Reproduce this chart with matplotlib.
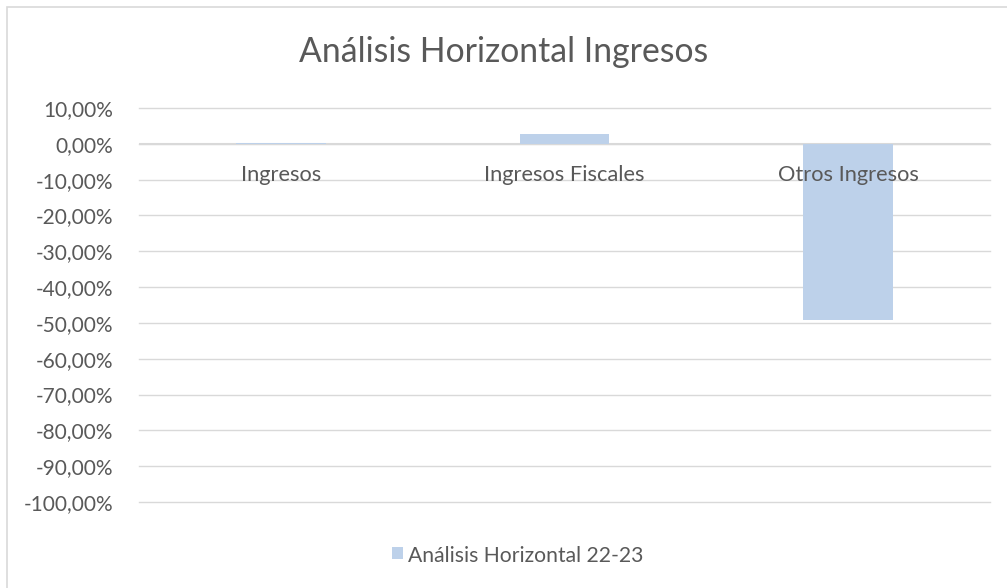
import matplotlib
matplotlib.use("Agg")
import matplotlib.pyplot as plt
from matplotlib.ticker import FuncFormatter
from matplotlib.patches import Rectangle

categories = ["Ingresos", "Ingresos Fiscales", "Otros Ingresos"]
values = [0.2, 2.8, -49.3]
series_name = "Análisis Horizontal 22-23"
title = "Análisis Horizontal Ingresos"
yticks = [10, 0, -10, -20, -30, -40, -50, -60, -70, -80, -90, -100]

plt.rcParams['font.family'] = ['Lato', 'DejaVu Sans']
text_color = '#595959'
bar_color = '#bdd1ea'
grid_color = '#d9d9d9'

W, H = 1007, 588
fig = plt.figure(figsize=(W / 100, H / 100), dpi=100)
renderer = fig.canvas.get_renderer()


def fit_size(s, target_px):
    t = fig.text(0, 0, s, fontsize=20)
    w = t.get_window_extent(renderer=renderer).width
    t.remove()
    return 20 * target_px / w


fmt = lambda v, p=None: f"{v:.2f}%".replace('.', ',')
tick_size = fit_size(fmt(-100), 90)
cat_size = fit_size("Ingresos Fiscales", 161)
title_size = fit_size(title, 410)
legend_size = fit_size(series_name, 235)

ax = fig.add_axes([139 / W, 1 - 502 / H, (990 - 139) / W, (502 - 108) / H])

x = list(range(len(categories)))
ax.bar(x, values, width=0.315, color=bar_color, label=series_name, zorder=3)
ax.set_xlim(-0.5, len(categories) - 0.5)
ax.set_ylim(-100, 10)
ax.set_yticks(yticks)
ax.yaxis.set_major_formatter(FuncFormatter(fmt))
ax.tick_params(axis='y', length=0, labelsize=tick_size, labelcolor=text_color, pad=18.5)
ax.set_xticks([])
ax.grid(axis='y', color=grid_color, linewidth=1, zorder=0)
for gl in ax.get_ygridlines():
    gl.set_clip_on(False)
ax.axhline(0, color=grid_color, linewidth=1.5, zorder=2)
for s in ax.spines.values():
    s.set_visible(False)

for xi, c in zip(x, categories):
    ax.text(xi, -10.4, c, ha='center', va='baseline', fontsize=cat_size, color=text_color, zorder=4)

fig.text(0.5, 1 - 62 / H, title, ha='center', va='baseline', fontsize=title_size, color=text_color)

# legend
fig.patches.append(Rectangle((392 / W, 1 - 559 / H), 11 / W, 12 / H, transform=fig.transFigure,
                             facecolor=bar_color, edgecolor='none'))
fig.text(408 / W, 1 - 562 / H, series_name, ha='left', va='baseline', fontsize=legend_size, color=text_color)

# chart border
fig.patches.append(Rectangle((7 / W, -10 / H), (W + 20) / W, (H + 3) / H, transform=fig.transFigure,
                             facecolor='none', edgecolor='#d9d9d9', linewidth=1.2))

fig.savefig("out.png", dpi=100)
